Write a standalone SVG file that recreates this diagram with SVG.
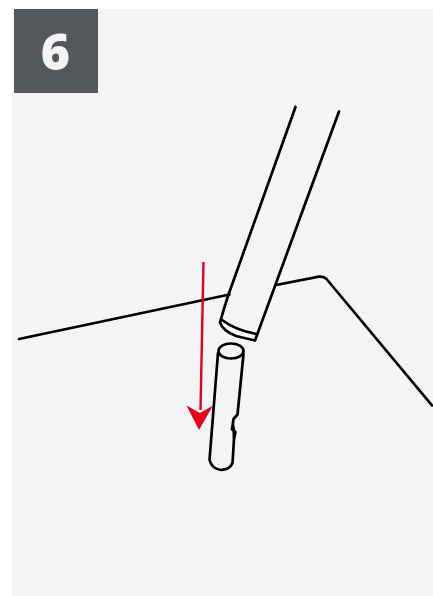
<svg xmlns="http://www.w3.org/2000/svg" width="433" height="596" viewBox="0 0 433 596">
<style>
.l{fill:none;stroke:#000;stroke-width:2.7;stroke-linecap:round;stroke-linejoin:round}
</style>
<rect width="433" height="596" fill="#fff"/>
<rect x="12" y="9" width="421" height="587" fill="#f4f4f4"/>
<g id="badge">
<rect x="14" y="9" width="84" height="84" fill="#54585c"/>
<text x="55.500" y="70" font-family="Open Sans, sans-serif" font-weight="800" font-size="50" fill="#f4f4f4" text-anchor="middle">6</text>
</g>
<g id="surface">
<path class="l" d="M19 339L229.500 294.500M276 285L319 276.700Q323.500 276 326.500 279L432 405.500"/>
</g>
<g id="tube">
<path d="M222 321Q236 331 256 334L254 339Q234 335 223 327Z" fill="#fff"/>
<path class="l" d="M295.500 107L228 296Q224 308 220 322.500Q223 331 236 336L255 340.500L339 111.500"/>
<path class="l" d="M222 320Q235 330 256.500 334"/>
</g>
<g id="peg">
<ellipse class="l" cx="231" cy="351" rx="12.500" ry="7.500"/>
<path class="l" d="M218 353L209.500 460Q212 469 221 470Q230 469.500 232.500 463L234 439L235.500 432L232 429.500L233.500 419L237.500 414.500L243.500 354"/>
<path d="M232.500 430L233.500 421L235.500 431L232.500 439Z" fill="#000"/>
</g>
<g id="arrow">
<path d="M203.500 262L200.500 410" fill="none" stroke="#e2001a" stroke-width="2.400"/>
<path d="M186.500 405.500L200 413L213 405.500L199 430Z" fill="#e2001a"/>
</g>
</svg>
